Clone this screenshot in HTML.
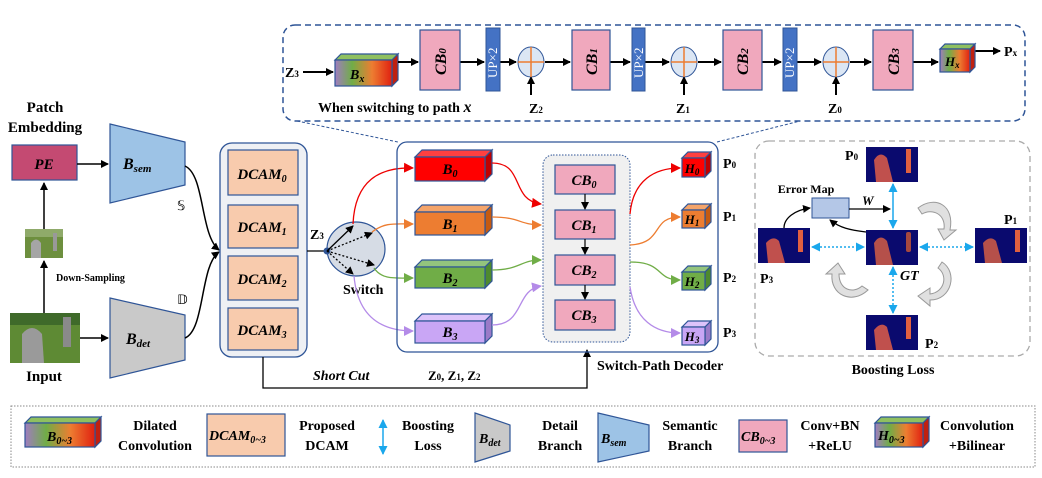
<!DOCTYPE html>
<html><head><meta charset="utf-8"><style>
html,body{margin:0;padding:0;background:#fff}
svg{display:block;font-family:"Liberation Serif",serif}
.b{font-weight:bold}
.i{font-style:italic;font-weight:bold}
</style></head><body>
<svg width="1042" height="478" viewBox="0 0 1042 478" xmlns="http://www.w3.org/2000/svg">
<defs>
<marker id="ak" markerWidth="8" markerHeight="8" refX="7" refY="4" orient="auto" markerUnits="userSpaceOnUse"><path d="M0,0 L8,4 L0,8 z" fill="#000"/></marker>
<marker id="ar" markerWidth="10" markerHeight="10" refX="9" refY="5" orient="auto" markerUnits="userSpaceOnUse"><path d="M0,0 L10,5 L0,10 z" fill="#e00"/></marker>
<marker id="ao" markerWidth="10" markerHeight="10" refX="9" refY="5" orient="auto" markerUnits="userSpaceOnUse"><path d="M0,0 L10,5 L0,10 z" fill="#ed7d31"/></marker>
<marker id="ag" markerWidth="10" markerHeight="10" refX="9" refY="5" orient="auto" markerUnits="userSpaceOnUse"><path d="M0,0 L10,5 L0,10 z" fill="#70ad47"/></marker>
<marker id="ap" markerWidth="10" markerHeight="10" refX="9" refY="5" orient="auto" markerUnits="userSpaceOnUse"><path d="M0,0 L10,5 L0,10 z" fill="#b48be8"/></marker>
<marker id="ac" markerWidth="9" markerHeight="9" refX="8" refY="4.5" orient="auto-start-reverse" markerUnits="userSpaceOnUse"><path d="M0,0 L9,4.5 L0,9 z" fill="#1aa7ec"/></marker>
<linearGradient id="rb" x1="0" x2="1" y1="0" y2="0"><stop offset="0" stop-color="#a07cc0"/><stop offset=".3" stop-color="#70ad47"/><stop offset=".65" stop-color="#ed7d31"/><stop offset="1" stop-color="#e02010"/></linearGradient>
</defs>

<!-- Top dashed box -->
<rect x="283" y="25" width="742" height="96" rx="12" fill="none" stroke="#2f5597" stroke-width="1.5" stroke-dasharray="6,4"/>
<line x1="297" y1="121" x2="398" y2="142" stroke="#2f5597" stroke-dasharray="3,2"/>
<line x1="717" y1="142" x2="800" y2="121" stroke="#2f5597" stroke-dasharray="3,2"/>
<text x="285" y="77" font-size="14" class="b">Z<tspan font-size="9">3</tspan></text>
<line x1="303" y1="72" x2="333" y2="72" stroke="#000" stroke-width="2" marker-end="url(#ak)"/>
<g stroke="#2f5597" stroke-width="1.2">
<polygon points="335,60 341,54 398,54 392,60" fill="#8fc060"/>
<polygon points="392,60 398,54 398,80 392,86" fill="#c02010"/>
<rect x="335" y="60" width="57" height="26" fill="url(#rb)"/>
</g>
<text x="350" y="79" font-size="14" class="i">B<tspan font-size="10" dy="3">x</tspan></text>
<g stroke="#000" stroke-width="2" fill="none">
<line x1="398" y1="62" x2="418" y2="62" marker-end="url(#ak)"/>
<line x1="460" y1="62" x2="484" y2="62" marker-end="url(#ak)"/>
<line x1="500" y1="62" x2="516" y2="62" marker-end="url(#ak)"/>
<line x1="545" y1="62" x2="570" y2="62" marker-end="url(#ak)"/>
<line x1="610" y1="62" x2="630" y2="62" marker-end="url(#ak)"/>
<line x1="645" y1="62" x2="669" y2="62" marker-end="url(#ak)"/>
<line x1="698" y1="62" x2="721" y2="62" marker-end="url(#ak)"/>
<line x1="762" y1="62" x2="781" y2="62" marker-end="url(#ak)"/>
<line x1="797" y1="62" x2="821" y2="62" marker-end="url(#ak)"/>
<line x1="850" y1="62" x2="871" y2="62" marker-end="url(#ak)"/>
<line x1="913" y1="62" x2="938" y2="62" marker-end="url(#ak)"/>
<line x1="970" y1="51" x2="1000" y2="51" marker-end="url(#ak)"/>
<line x1="531" y1="95" x2="531" y2="77" marker-end="url(#ak)"/>
<line x1="684" y1="95" x2="684" y2="77" marker-end="url(#ak)"/>
<line x1="836" y1="95" x2="836" y2="77" marker-end="url(#ak)"/>
</g>
<g stroke="#2f5597" stroke-width="1.2" fill="#f0a8bd">
<rect x="420" y="30" width="40" height="60"/>
<rect x="572" y="30" width="38" height="60"/>
<rect x="723" y="30" width="39" height="60"/>
<rect x="873" y="30" width="40" height="60"/>
</g>
<g fill="#4472c4" stroke="#2f5597">
<rect x="486" y="28" width="14" height="63"/>
<rect x="632" y="28" width="13" height="63"/>
<rect x="783" y="28" width="14" height="63"/>
</g>
<g font-size="13" fill="#fff">
<text transform="translate(497,78) rotate(-90)">UP×2</text>
<text transform="translate(643,78) rotate(-90)">UP×2</text>
<text transform="translate(794,78) rotate(-90)">UP×2</text>
</g>
<g font-size="16" class="i">
<text transform="translate(446,75) rotate(-90)">CB<tspan font-size="11">0</tspan></text>
<text transform="translate(597,75) rotate(-90)">CB<tspan font-size="11">1</tspan></text>
<text transform="translate(748,75) rotate(-90)">CB<tspan font-size="11">2</tspan></text>
<text transform="translate(899,75) rotate(-90)">CB<tspan font-size="11">3</tspan></text>
</g>
<g stroke="#2f5597" fill="#dbe6f4">
<ellipse cx="531" cy="62" rx="13" ry="15"/><ellipse cx="684" cy="62" rx="13" ry="15"/><ellipse cx="836" cy="62" rx="13" ry="15"/>
</g>
<g stroke="#ed7d31" stroke-width="1.5">
<line x1="518" y1="62" x2="544" y2="62"/><line x1="531" y1="47" x2="531" y2="77"/>
<line x1="671" y1="62" x2="697" y2="62"/><line x1="684" y1="47" x2="684" y2="77"/>
<line x1="823" y1="62" x2="849" y2="62"/><line x1="836" y1="47" x2="836" y2="77"/>
</g>
<g stroke="#2f5597" stroke-width="1.2">
<polygon points="940,49 945,44 975,44 970,49" fill="#8fc060"/>
<polygon points="970,49 975,44 975,67 970,72" fill="#c02010"/>
<rect x="940" y="49" width="30" height="23" fill="url(#rb)"/>
</g>
<text x="945" y="66" font-size="13" class="i">H<tspan font-size="9" dy="2">x</tspan></text>
<text x="1004" y="56" font-size="14" class="b">P<tspan font-size="9">x</tspan></text>
<text x="318" y="112" font-size="14" class="b">When switching to path <tspan font-style="italic" font-size="16">x</tspan></text>
<text x="529" y="113" font-size="14" class="b">Z<tspan font-size="9">2</tspan></text>
<text x="676" y="113" font-size="14" class="b">Z<tspan font-size="9">1</tspan></text>
<text x="828" y="113" font-size="14" class="b">Z<tspan font-size="9">0</tspan></text>

<!-- Left part -->
<text x="45" y="112" font-size="15" class="b" text-anchor="middle">Patch</text>
<text x="45" y="132" font-size="15" class="b" text-anchor="middle">Embedding</text>
<rect x="12" y="145" width="65" height="35" fill="#c44a72" stroke="#2f5597" stroke-width="1.2"/>
<text x="44" y="169" font-size="15" class="i" text-anchor="middle">PE</text>
<line x1="77" y1="164" x2="108" y2="164" stroke="#000" stroke-width="1.5" marker-end="url(#ak)"/>
<polygon points="110,124 185,142 185,185 110,203" fill="#9dc3e6" stroke="#2f5597" stroke-width="1.2"/>
<text x="123" y="169" font-size="16" class="i">B<tspan font-size="11" dy="3">sem</tspan></text>
<text x="177" y="210" font-size="13">𝕊</text>
<rect x="25" y="229" width="38" height="29" fill="#6d8f3e"/>
<rect x="25" y="229" width="38" height="8" fill="#8faa6a"/>
<path d="M31,258 L31,243 Q36,236 41,243 L41,258 z" fill="#a5a5a5"/>
<rect x="53" y="233" width="4" height="18" fill="#999"/>
<line x1="44" y1="229" x2="44" y2="183" stroke="#000" stroke-width="1.5" marker-end="url(#ak)"/>
<text x="56" y="281" font-size="10" class="b">Down-Sampling</text>
<rect x="10" y="313" width="70" height="50" fill="#5e8a34"/>
<rect x="10" y="313" width="70" height="12" fill="#3f6a2a"/>
<path d="M22,363 L22,334 Q32,322 42,334 L44,363 z" fill="#9a9a9a"/>
<rect x="63" y="317" width="8" height="30" fill="#8a8a8a"/>
<line x1="44" y1="313" x2="44" y2="261" stroke="#000" stroke-width="1.5" marker-end="url(#ak)"/>
<text x="44" y="381" font-size="15" class="b" text-anchor="middle">Input</text>
<line x1="80" y1="338" x2="108" y2="338" stroke="#000" stroke-width="1.5" marker-end="url(#ak)"/>
<polygon points="110,298 185,315 185,360 110,378" fill="#c9c9c9" stroke="#2f5597" stroke-width="1.2"/>
<text x="126" y="344" font-size="16" class="i">B<tspan font-size="11" dy="3">det</tspan></text>
<text x="177" y="304" font-size="13">𝔻</text>
<path d="M185,166 C205,175 200,235 219,250" fill="none" stroke="#000" stroke-width="1.5" marker-end="url(#ak)"/>
<path d="M185,338 C205,330 200,265 219,252" fill="none" stroke="#000" stroke-width="1.5" marker-end="url(#ak)"/>

<!-- DCAM -->
<rect x="220" y="143" width="87" height="214" rx="12" fill="#eef0f4" stroke="#2f5597" stroke-width="1.3"/>
<g fill="#f8cbad" stroke="#2f5597" stroke-width="1.2">
<rect x="228" y="150" width="70" height="45"/><rect x="228" y="205" width="70" height="43"/>
<rect x="228" y="256" width="70" height="44"/><rect x="228" y="308" width="70" height="42"/>
</g>
<g font-size="15" class="i" text-anchor="middle">
<text x="262" y="179">DCAM<tspan font-size="10" dy="3">0</tspan></text>
<text x="262" y="232">DCAM<tspan font-size="10" dy="3">1</tspan></text>
<text x="262" y="284">DCAM<tspan font-size="10" dy="3">2</tspan></text>
<text x="262" y="335">DCAM<tspan font-size="10" dy="3">3</tspan></text>
</g>
<polyline points="263,357 263,388 587,388 587,350" fill="none" stroke="#000" stroke-width="1.3" marker-end="url(#ak)"/>
<text x="313" y="380" font-size="14" class="i">Short Cut</text>
<text x="428" y="380" font-size="13" class="b">Z<tspan font-size="9">0</tspan>, Z<tspan font-size="9">1</tspan>, Z<tspan font-size="9">2</tspan></text>

<!-- switch -->
<line x1="307" y1="251" x2="327" y2="251" stroke="#000" stroke-width="1.3"/>
<text x="310" y="239" font-size="14" class="b">Z<tspan font-size="9">3</tspan></text>
<ellipse cx="356" cy="249" rx="29" ry="27" fill="#d6dce5" stroke="#2f5597" stroke-width="1.2"/>
<circle cx="327" cy="251" r="3.5" fill="#2f5597"/>
<g stroke="#000" stroke-width="1.3" fill="none">
<line x1="327" y1="251" x2="353" y2="226" marker-end="url(#ak)"/>
<line x1="327" y1="251" x2="372" y2="233" stroke-dasharray="2,2" marker-end="url(#ak)"/>
<line x1="327" y1="251" x2="374" y2="265" stroke-dasharray="2,2" marker-end="url(#ak)"/>
<line x1="327" y1="251" x2="353" y2="274" stroke-dasharray="2,2" marker-end="url(#ak)"/>
</g>
<text x="343" y="294" font-size="14" class="b">Switch</text>
<path d="M353,224 C355,180 380,167 413,168" fill="none" stroke="#e00" stroke-width="1.3" marker-end="url(#ar)"/>
<path d="M372,232 C385,222 395,224 413,224" fill="none" stroke="#ed7d31" stroke-width="1.3" marker-end="url(#ao)"/>
<path d="M374,268 C382,280 395,278 413,278" fill="none" stroke="#70ad47" stroke-width="1.3" marker-end="url(#ag)"/>
<path d="M354,276 C358,320 385,331 413,331" fill="none" stroke="#b48be8" stroke-width="1.3" marker-end="url(#ap)"/>

<!-- Decoder -->
<rect x="397" y="142" width="321" height="210" rx="10" fill="none" stroke="#2f5597" stroke-width="1.3"/>
<g stroke="#2f5597" stroke-width="1.2">
<polygon points="415,157 422,150 492,150 485,157" fill="#ff4040"/><polygon points="485,157 492,150 492,174 485,181" fill="#c00000"/><rect x="415" y="157" width="70" height="24" fill="#ff0000"/>
<polygon points="415,212 422,205 492,205 485,212" fill="#f4a46a"/><polygon points="485,212 492,205 492,228 485,235" fill="#c55a11"/><rect x="415" y="212" width="70" height="23" fill="#ed7d31"/>
<polygon points="415,267 422,260 492,260 485,267" fill="#93c47d"/><polygon points="485,267 492,260 492,281 485,288" fill="#4e8a2e"/><rect x="415" y="267" width="70" height="21" fill="#70ad47"/>
<polygon points="415,321 422,314 492,314 485,321" fill="#ddc3fa"/><polygon points="485,321 492,314 492,336 485,343" fill="#9a7ac8"/><rect x="415" y="321" width="70" height="22" fill="#c9a6f5"/>
</g>
<g font-size="15" class="i" text-anchor="middle">
<text x="450" y="174">B<tspan font-size="10" dy="3">0</tspan></text>
<text x="450" y="229">B<tspan font-size="10" dy="3">1</tspan></text>
<text x="450" y="283">B<tspan font-size="10" dy="3">2</tspan></text>
<text x="450" y="337">B<tspan font-size="10" dy="3">3</tspan></text>
</g>
<rect x="543" y="155" width="87" height="187" rx="10" fill="#f0f0f0" stroke="#2f5597" stroke-dasharray="1.5,1.5"/>
<g fill="#f0a8bd" stroke="#2f5597" stroke-width="1.2">
<rect x="555" y="165" width="60" height="29"/><rect x="555" y="210" width="60" height="29"/>
<rect x="555" y="255" width="60" height="30"/><rect x="555" y="300" width="60" height="30"/>
</g>
<g font-size="15" class="i" text-anchor="middle">
<text x="584" y="185">CB<tspan font-size="10" dy="3">0</tspan></text>
<text x="584" y="230">CB<tspan font-size="10" dy="3">1</tspan></text>
<text x="584" y="275">CB<tspan font-size="10" dy="3">2</tspan></text>
<text x="584" y="320">CB<tspan font-size="10" dy="3">3</tspan></text>
</g>
<g stroke="#000" stroke-width="1.2">
<line x1="585" y1="194" x2="585" y2="209" marker-end="url(#ak)"/>
<line x1="585" y1="239" x2="585" y2="254" marker-end="url(#ak)"/>
<line x1="585" y1="285" x2="585" y2="299" marker-end="url(#ak)"/>
</g>
<path d="M492,163 C525,163 510,200 541,204" fill="none" stroke="#e00" stroke-width="1.3" marker-end="url(#ar)"/>
<path d="M492,217 C520,217 520,225 541,225" fill="none" stroke="#ed7d31" stroke-width="1.3" marker-end="url(#ao)"/>
<path d="M492,270 C520,270 520,260 541,260" fill="none" stroke="#70ad47" stroke-width="1.3" marker-end="url(#ag)"/>
<path d="M492,325 C525,325 515,290 541,286" fill="none" stroke="#b48be8" stroke-width="1.3" marker-end="url(#ap)"/>
<path d="M630,214 C633,180 655,168 680,168" fill="none" stroke="#e00" stroke-width="1.3" marker-end="url(#ar)"/>
<path d="M630,245 C665,243 650,217 680,217" fill="none" stroke="#ed7d31" stroke-width="1.3" marker-end="url(#ao)"/>
<path d="M630,262 C665,262 655,280 680,280" fill="none" stroke="#70ad47" stroke-width="1.3" marker-end="url(#ag)"/>
<path d="M630,287 C635,320 655,333 680,333" fill="none" stroke="#b48be8" stroke-width="1.3" marker-end="url(#ap)"/>
<g stroke="#2f5597" stroke-width="1.2">
<polygon points="682,158 688,152 711,152 705,158" fill="#ff4040"/><polygon points="705,158 711,152 711,171 705,177" fill="#c00000"/><rect x="682" y="158" width="23" height="19" fill="#ff0000"/>
<polygon points="682,210 688,204 711,204 705,210" fill="#f4a46a"/><polygon points="705,210 711,204 711,222 705,228" fill="#c55a11"/><rect x="682" y="210" width="23" height="18" fill="#ed7d31"/>
<polygon points="682,272 688,266 711,266 705,272" fill="#93c47d"/><polygon points="705,272 711,266 711,284 705,290" fill="#4e8a2e"/><rect x="682" y="272" width="23" height="18" fill="#70ad47"/>
<polygon points="682,327 688,321 711,321 705,327" fill="#ddc3fa"/><polygon points="705,327 711,321 711,339 705,345" fill="#9a7ac8"/><rect x="682" y="327" width="23" height="18" fill="#c9a6f5"/>
</g>
<g font-size="13" class="i" text-anchor="middle">
<text x="692" y="173">H<tspan font-size="9" dy="2">0</tspan></text>
<text x="692" y="224">H<tspan font-size="9" dy="2">1</tspan></text>
<text x="692" y="286">H<tspan font-size="9" dy="2">2</tspan></text>
<text x="692" y="341">H<tspan font-size="9" dy="2">3</tspan></text>
</g>
<g font-size="14" class="b">
<text x="723" y="168">P<tspan font-size="9">0</tspan></text>
<text x="723" y="221">P<tspan font-size="9">1</tspan></text>
<text x="723" y="282">P<tspan font-size="9">2</tspan></text>
<text x="723" y="337">P<tspan font-size="9">3</tspan></text>
</g>
<text x="597" y="370" font-size="14" class="b">Switch-Path Decoder</text>

<!-- Boosting Loss -->
<rect x="755" y="141" width="275" height="215" rx="14" fill="none" stroke="#aaa" stroke-width="1.3" stroke-dasharray="6,4"/>
<g id="hm">
</g>
<g>
<rect x="866" y="147" width="52" height="35" fill="#0a0a6e"/><path d="M876,182 L874,160 Q880,150 887,158 L893,182z" fill="#c0504d"/><rect x="906" y="149" width="5" height="24" fill="#e06040"/>
<rect x="866" y="230" width="52" height="35" fill="#0a0a6e"/><path d="M876,265 L874,243 Q880,233 887,241 L893,265z" fill="#b5504a"/><rect x="906" y="232" width="5" height="20" rx="2" fill="#a5483f"/>
<rect x="975" y="228" width="52" height="35" fill="#0a0a6e"/><path d="M985,263 L983,243 Q990,235 996,241 L1002,263z" fill="#b5504a"/><rect x="1015" y="230" width="5" height="22" fill="#e06040"/>
<rect x="758" y="228" width="52" height="35" fill="#0a0a6e"/><path d="M768,263 L766,243 Q773,235 779,241 L785,263z" fill="#c0504d"/><rect x="798" y="230" width="5" height="22" fill="#e06040"/>
<rect x="866" y="315" width="52" height="35" fill="#0a0a6e"/><path d="M876,350 L874,330 Q881,321 887,327 L893,350z" fill="#c0504d"/><rect x="906" y="317" width="5" height="22" fill="#e06040"/>
</g>
<rect x="812" y="198" width="37" height="20" fill="#b4c7e7" stroke="#2f5597"/>
<text x="806" y="193" font-size="12" class="b" text-anchor="middle">Error Map</text>
<line x1="849" y1="209" x2="890" y2="209" stroke="#000" stroke-width="1.3" marker-end="url(#ak)"/>
<text x="862" y="205" font-size="13" class="i">W</text>
<path d="M784,228 C784,218 795,210 810,208" fill="none" stroke="#000" stroke-width="1.3" marker-end="url(#ak)"/>
<path d="M866,232 C850,230 840,228 830,220" fill="none" stroke="#000" stroke-width="1.3" marker-end="url(#ak)"/>
<g stroke="#1aa7ec" stroke-width="1.5" fill="none">
<line x1="893" y1="184" x2="893" y2="228" marker-start="url(#ac)" marker-end="url(#ac)"/>
<line x1="893" y1="267" x2="893" y2="313" stroke-dasharray="2,2" marker-start="url(#ac)" marker-end="url(#ac)"/>
<line x1="812" y1="247" x2="864" y2="247" stroke-dasharray="2,2" marker-start="url(#ac)" marker-end="url(#ac)"/>
<line x1="920" y1="247" x2="973" y2="247" stroke-dasharray="2,2" marker-start="url(#ac)" marker-end="url(#ac)"/>
</g>
<g fill="#e0e0e0" stroke="#999" stroke-width="1">
<path d="M918,208 C935,195 955,205 950,230 L956,230 L944,240 L938,229 L944,229 C946,214 932,208 922,214z"/>
<path d="M942,262 C958,272 952,300 930,300 L930,306 L918,296 L930,288 L930,294 C945,292 948,275 938,268z"/>
<path d="M868,290 C852,305 830,295 832,274 L826,274 L838,263 L845,274 L839,274 C839,290 853,294 862,286z"/>
</g>
<g font-size="14" class="b">
<text x="845" y="160">P<tspan font-size="9">0</tspan></text>
<text x="1004" y="224">P<tspan font-size="9">1</tspan></text>
<text x="760" y="283">P<tspan font-size="9">3</tspan></text>
<text x="925" y="348">P<tspan font-size="9">2</tspan></text>
</g>
<text x="900" y="280" font-size="14" class="i">GT</text>
<text x="893" y="374" font-size="14" class="b" text-anchor="middle">Boosting Loss</text>

<!-- Legend -->
<rect x="11" y="406" width="1024" height="61" fill="none" stroke="#888" stroke-dasharray="1.5,1.5"/>
<g stroke="#2f5597" stroke-width="1.2">
<polygon points="25,423 31,417 101,417 95,423" fill="#8fc060"/><polygon points="95,423 101,417 101,441 95,447" fill="#c02010"/><rect x="25" y="423" width="70" height="24" fill="url(#rb)"/>
<rect x="207" y="414" width="78" height="42" fill="#f8cbad"/>
<polygon points="475,413 510,425 510,451 475,462" fill="#c9c9c9"/>
<polygon points="598,413 649,425 649,451 598,462" fill="#9dc3e6"/>
<rect x="739" y="420" width="48" height="32" fill="#f0a8bd"/>
<polygon points="875,423 881,417 929,417 923,423" fill="#8fc060"/><polygon points="923,423 929,417 929,441 923,447" fill="#c02010"/><rect x="875" y="423" width="48" height="24" fill="url(#rb)"/>
</g>
<line x1="383" y1="420" x2="383" y2="454" stroke="#1aa7ec" stroke-width="1.5" marker-start="url(#ac)" marker-end="url(#ac)"/>
<g class="i" font-size="14">
<text x="47" y="441">B<tspan font-size="10" dy="3">0~3</tspan></text>
<text x="209" y="440">DCAM<tspan font-size="10" dy="3">0~3</tspan></text>
<text x="479" y="443">B<tspan font-size="10" dy="3">det</tspan></text>
<text x="601" y="443">B<tspan font-size="10" dy="3">sem</tspan></text>
<text x="741" y="441">CB<tspan font-size="10" dy="3">0~3</tspan></text>
<text x="878" y="440">H<tspan font-size="10" dy="3">0~3</tspan></text>
</g>
<g class="b" font-size="14" text-anchor="middle">
<text x="155" y="430">Dilated</text><text x="155" y="450">Convolution</text>
<text x="327" y="430">Proposed</text><text x="327" y="450">DCAM</text>
<text x="428" y="430">Boosting</text><text x="428" y="450">Loss</text>
<text x="560" y="430">Detail</text><text x="560" y="450">Branch</text>
<text x="690" y="430">Semantic</text><text x="690" y="450">Branch</text>
<text x="830" y="430">Conv+BN</text><text x="830" y="450">+ReLU</text>
<text x="977" y="430">Convolution</text><text x="977" y="450">+Bilinear</text>
</g>
</svg>
</body></html>
